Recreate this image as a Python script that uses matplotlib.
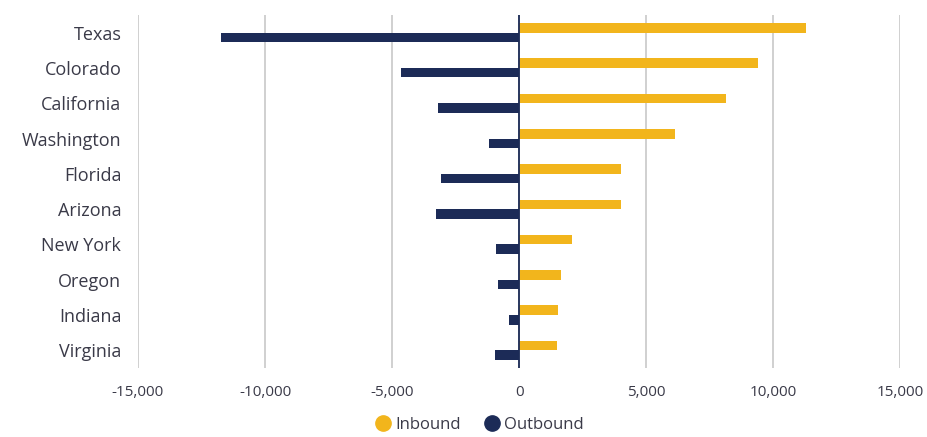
import matplotlib
matplotlib.use("Agg")
import matplotlib.pyplot as plt
import numpy as np
from matplotlib.lines import Line2D

states = ["Texas", "Colorado", "California", "Washington", "Florida",
          "Arizona", "New York", "Oregon", "Indiana", "Virginia"]
inbound = [11300, 9400, 8150, 6150, 4000, 4000, 2100, 1650, 1550, 1500]
outbound = [-11750, -4650, -3200, -1170, -3080, -3270, -920, -810, -380, -930]
x_ticks = [-15000, -10000, -5000, 0, 5000, 10000, 15000]

gold = "#F2B51C"
navy = "#1C2B57"
text_col = "#3a3a48"

plt.rcParams["font.family"] = ["Open Sans", "DejaVu Sans"]

fig = plt.figure(figsize=(9.28, 4.37), dpi=100)
ax = fig.add_axes([0.1487, 0.158, 0.8213, 0.8077])

y = np.arange(len(states))
h = 0.27
ax.barh(y - h / 2, inbound, height=h, color=gold, zorder=3)
ax.barh(y + h / 2, outbound, height=h, color=navy, zorder=3)

ax.set_ylim(len(states) - 0.5, -0.5)
ax.set_xlim(-15000, 15000)
ax.set_xticks(x_ticks)
ax.set_xticklabels([f"{v:,}" for v in x_ticks])
ax.set_yticks(y)
ax.set_yticklabels(states)

ax.grid(axis="x", color="#c8c8c8", linewidth=1.2, zorder=0)
ax.axvline(0, color=navy, linewidth=1.3, zorder=4)
for s in ax.spines.values():
    s.set_visible(False)
ax.tick_params(axis="y", length=0, pad=12, labelsize=13, labelcolor=text_col)
ax.tick_params(axis="x", length=0, pad=12, labelsize=11, labelcolor=text_col)

handles = [
    Line2D([], [], marker="o", linestyle="", markersize=11, color=gold, label="Inbound"),
    Line2D([], [], marker="o", linestyle="", markersize=11, color=navy, label="Outbound"),
]
fig.legend(handles=handles, loc="center", bbox_to_anchor=(475 / 928, 1 - 425 / 437),
           ncol=2, frameon=False, fontsize=12, handletextpad=-0.3,
           columnspacing=0.9, labelcolor=text_col)

fig.savefig("out.png", dpi=100, facecolor="white")
